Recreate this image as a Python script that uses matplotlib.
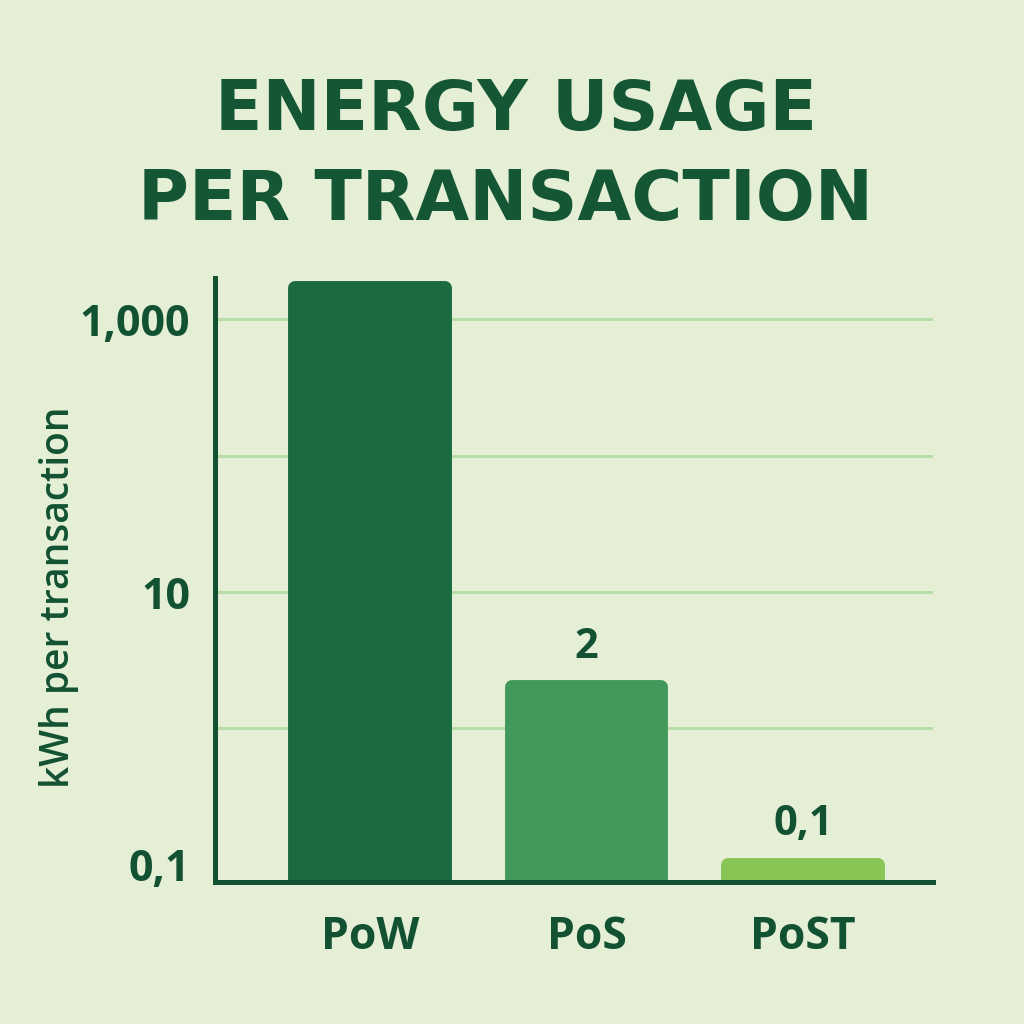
import matplotlib
matplotlib.use("Agg")
import matplotlib.pyplot as plt
import numpy as np

# Data
categories = ["PoW", "PoS", "PoST"]
values = [1700, 2, 0.1]
bar_colors = ["#1b6b40", "#419a5c", "#88c554"]
labelled = [False, True, True]
ytick_values = [0.1, 10, 1000]
ytick_labels = ["0,1", "10", "1,000"]
minor_grid_values = [1, 100]

BG = "#e5efd6"
DARK = "#125232"
GRID = "#b9dda6"
TITLE = "#155634"

fig = plt.figure(figsize=(10.24, 10.24), dpi=100, facecolor=BG)
ax = fig.add_axes([0.21, 0.1387, 0.701, 0.5898])
ax.set_facecolor(BG)

ax.set_yscale("log")
ax.set_ylim(0.075, 2000)
ax.set_xlim(-0.716, 2.6)

x = np.arange(len(categories))
bars = ax.bar(x, values, width=0.69, color=bar_colors, edgecolor=bar_colors,
              linewidth=10, joinstyle="round", zorder=3)

# ticks & grid
ax.set_yticks(ytick_values)
ax.set_yticklabels(ytick_labels)
ax.set_yticks(minor_grid_values, minor=True)
ax.yaxis.set_minor_formatter(matplotlib.ticker.NullFormatter())
ax.grid(True, axis="y", which="both", color=GRID, linewidth=2.2, zorder=0)
ax.yaxis.get_major_ticks()[0].gridline.set_visible(False)
ax.tick_params(axis="y", which="both", length=0, pad=18, labelsize=31,
               labelcolor=DARK)
for t in ax.get_yticklabels():
    t.set_fontfamily("Open Sans")
    t.set_fontweight("bold")

ax.set_xticks(x)
ax.set_xticklabels(categories)
ax.tick_params(axis="x", length=0, pad=24, labelsize=32, labelcolor=DARK)
for t in ax.get_xticklabels():
    t.set_fontfamily("Open Sans")
    t.set_fontweight("bold")

for s in ["top", "right"]:
    ax.spines[s].set_visible(False)
for s in ["left", "bottom"]:
    ax.spines[s].set_color(DARK)
    ax.spines[s].set_linewidth(3.6)
    ax.spines[s].set_zorder(4)

# value labels
lbls = [(f"{v:g}".replace(".", ",") if show else "") for v, show in zip(values, labelled)]
ax.bar_label(bars, labels=lbls, padding=14, fontsize=30, color=DARK,
             fontfamily="Open Sans", fontweight="bold")

ax.set_ylabel("kWh per transaction", fontsize=28, color=DARK,
              fontfamily="Open Sans", fontweight="semibold")
ax.yaxis.set_label_coords(-0.19, 0.472)

# title
fig.text(0.504, 1 - 130 / 1024, "ENERGY USAGE", ha="center", va="baseline",
         fontsize=50, fontweight="bold", fontfamily="DejaVu Sans", color=TITLE)
fig.text(0.494, 1 - 220 / 1024, "PER TRANSACTION", ha="center", va="baseline",
         fontsize=50, fontweight="bold", fontfamily="DejaVu Sans", color=TITLE)

fig.savefig("out.png", dpi=100, facecolor=BG)
